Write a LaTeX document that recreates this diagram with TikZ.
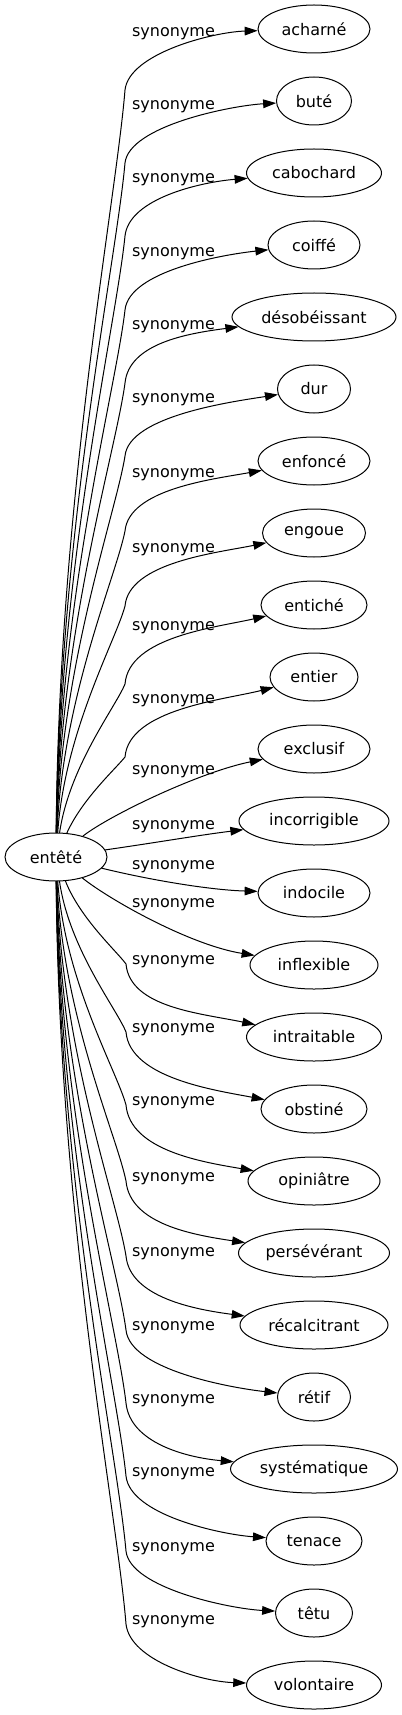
\documentclass[tikz,border=0pt]{standalone}
\usepackage{fontspec}
\setmainfont{DejaVu Sans}
\usepackage{tikz}
\usetikzlibrary{arrows.meta,shapes.geometric}

\begin{document}
\begin{tikzpicture}[
    x=0.75pt, y=-0.75pt,
    line cap=round,
    %styles
    word/.style={draw, ellipse, line width=0.75pt, inner xsep=1pt, inner ysep=0pt,
        minimum height=36pt, font=\fontsize{12}{14}\selectfont},
    rel label/.style={font=\fontsize{12}{14}\selectfont, inner sep=0pt, anchor=base},
    syn edge/.style={line width=0.75pt, -{Triangle[length=9.75pt,width=6.5pt]}},
  ]
  \useasboundingbox (0,0) rectangle (402,1715);
  \node[word, minimum width=76.5pt] (ent) at (56,857) {entêté};

  %words and labels
  \foreach \w/\name/\ly [count=\i from 0] in {
      112/acharné/32, 75/buté/105, 135/cabochard/178, 92/coiffé/252,
      164/désobéissant/325, 73/dur/398, 112/enfoncé/473, 103/engoue/548,
      106/entiché/626, 88/entier/699, 112/exclusif/770, 150/incorrigible/825,
      112/indocile/865, 128/inflexible/903, 135/intraitable/960, 106/obstiné/1028,
      132/opiniâtre/1101, 151/persévérant/1177, 148/récalcitrant/1252, 73/rétif/1326,
      167/systématique/1399, 96/tenace/1472, 77/têtu/1547, 135/volontaire/1620}
  {
    \node[word, minimum width=\w*0.75pt] (s\i) at (314,29+72*\i) {\name};
    \node[rel label] (l\i) at (173.5,\ly+4.5) {synonyme};
  }

  %upper fan
  \foreach \i/\ly/\w in {0/32/112,1/105/75,2/178/135,3/252/92,4/325/164,
      5/398/73,6/473/112,7/548/103,8/626/106,9/699/88}{
    \pgfmathsetmacro{\ky}{\ly+58}
    \pgfmathsetmacro{\dist}{833-\ky}
    \pgfmathsetmacro{\ty}{29+72*\i}
    \pgfmathsetmacro{\cx}{314-\w/2-45}
    \pgfmathsetmacro{\rise}{(\w/2+45)*(0.03+0.025*\i)}
    \draw[syn edge] (ent) .. controls ({56+2000/\dist},{833-0.45*\dist}) and (116,{\ky+0.15*\dist}) .. (125,\ky)
      .. controls (129,{\ky-0.6*(\ky-\ty)}) and (\cx,{\ty+\rise}) .. (s\i);
  }

  %middle
  \draw[syn edge] (ent) .. controls (110,815) and (200,772) .. (s10);
  \draw[syn edge] (ent) .. controls (160,842) and (200,835) .. (s11);
  \draw[syn edge] (ent) .. controls (150,880) and (210,890) .. (s12);
  \draw[syn edge] (ent) .. controls (110,900) and (190,945) .. (s13);

  %lower fan
  \foreach \i/\ly/\w in {14/960/135,15/1028/106,16/1101/132,17/1177/151,18/1252/148,
      19/1326/73,20/1399/167,21/1472/96,22/1547/77,23/1620/135}{
    \pgfmathsetmacro{\ky}{\ly+4}
    \pgfmathsetmacro{\dist}{\ky-881}
    \pgfmathsetmacro{\ty}{29+72*\i}
    \pgfmathsetmacro{\cx}{314-\w/2-45}
    \pgfmathsetmacro{\rise}{(\w/2+45)*(0.21-0.02*(\i-14))}
    \draw[syn edge] (ent) .. controls ({56+2000/\dist},{881+0.45*\dist}) and (117,{\ky-0.15*\dist}) .. (126,\ky)
      .. controls (130,{\ky+0.6*(\ty-\ky)}) and (\cx,{\ty-\rise}) .. (s\i);
  }
\end{tikzpicture}
\end{document}
